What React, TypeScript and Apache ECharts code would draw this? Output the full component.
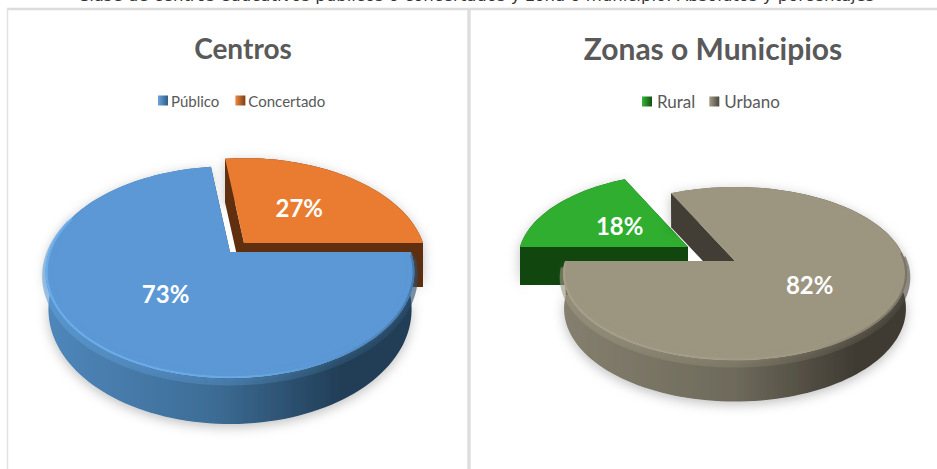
import React, { useEffect, useRef } from "react";
import * as echarts from "echarts";

const centrosCategories = ["Público", "Concertado"];
const centrosValues = [73, 27];
const zonasCategories = ["Rural", "Urbano"];
const zonasValues = [18, 82];
const pageCaption =
  "Clase de centros educativos públicos o concertados y zona o municipio: Absolutos y porcentajes";

const FONT = "Lato, 'Open Sans', sans-serif";

type Geo = {
  ax: number; ay: number; R: number; a: number; k: number;
  h0: number; h1: number; shrink: number;
};

const project = (g: Geo, deg: number, r: number, bottom = false): number[] => {
  const t = (deg * Math.PI) / 180;
  const X = r * Math.sin(t);
  const Y = -r * Math.cos(t);
  const D = 1 - g.k * Y;
  let u = (g.R * X) / D;
  let v = (g.a * Y) / D;
  if (bottom) {
    u *= g.shrink;
    v = v * g.shrink + g.h0 + g.h1 * Math.max(Y, 0);
  }
  return [g.ax + u, g.ay + v];
};

const arc = (g: Geo, d0: number, d1: number, bottom = false, r = 1) => {
  const pts: number[][] = [];
  const n = Math.max(8, Math.ceil((d1 - d0) / 2));
  for (let i = 0; i <= n; i++) pts.push(project(g, d0 + ((d1 - d0) * i) / n, r, bottom));
  return pts;
};

const grad = (stops: [number, string][]) =>
  new echarts.graphic.LinearGradient(
    0, 0, 1, 0,
    stops.map(([offset, color]) => ({ offset, color }))
  );

type Look = {
  top: string; cut: string; wall: [number, string][];
  rim?: [number, string][]; band?: [number, string][]; glow?: string;
  front?: [number, number];
};

const sliceSeries = (
  name: string, value: number, startDeg: number, total: number, g: Geo, look: Look, legendColor: string
) => ({
  type: "custom",
  name,
  coordinateSystem: "none",
  silent: true,
  itemStyle: { color: legendColor },
  data: [[value]],
  renderItem: (_p: any, api: any) => {
    const v = api.value(0) as number;
    const d0 = startDeg;
    const d1 = startDeg + (v / total) * 360;
    const apex = [g.ax, g.ay];
    const apexB = [g.ax, g.ay + g.h0];
    const rim = arc(g, d0, d1);
    const rimB = arc(g, d0, d1, true);
    const mid = project(g, (d0 + d1) / 2, 0.5);
    const cutWall = (d: number) => {
      const p = project(g, d, 1);
      const q = project(g, d, 1, true);
      return {
        type: "polygon",
        shape: { points: [apex, p, q, apexB] },
        style: { fill: look.cut },
      };
    };
    const children: any[] = [
      {
        type: "polygon",
        shape: { points: [...rim, ...rimB.slice().reverse()] },
        style: {
          fill: grad(look.wall),
          shadowBlur: 12,
          shadowColor: "rgba(0,0,0,0.25)",
          shadowOffsetY: 3,
        },
      },
      cutWall(d0),
      cutWall(d1),
    ];
    if (look.front && look.band) {
      children.push({
        type: "polyline",
        shape: { points: arc({ ...g, h0: 4, h1: 0, shrink: 1 }, look.front[0], look.front[1], true) },
        style: { fill: "none", stroke: grad(look.band), lineWidth: 7, opacity: 0.6, lineCap: "butt" },
      });
    }
    children.push({
      type: "polygon",
      shape: { points: [apex, ...rim] },
      style: { fill: look.top },
    });
    if (look.front && look.rim) {
      children.push({
        type: "polyline",
        shape: { points: arc(g, look.front[0], look.front[1], false, 0.995) },
        style: {
          fill: "none",
          stroke: grad(look.rim),
          lineWidth: 2,
          opacity: 0.8,
          lineCap: "round",
          shadowBlur: 5,
          shadowColor: look.glow,
        },
      });
    }
    children.push({
      type: "text",
      style: {
        text: `${v}%`,
        x: mid[0],
        y: mid[1],
        fill: "#ffffff",
        font: `700 24px ${FONT}`,
        align: "center",
        verticalAlign: "middle",
      },
    });
    return { type: "group", children };
  },
});

const geoBlue: Geo = { ax: 230, ay: 252, R: 181, a: 102, k: 0.19, h0: 35, h1: 13, shrink: 0.985 };
const geoOrange: Geo = { ax: 244, ay: 243, R: 179, a: 101, k: 0.19, h0: 44, h1: 0, shrink: 1 };
const geoGray: Geo = { ax: 735, ay: 261, R: 170, a: 84.7, k: 0.1445, h0: 34, h1: 8, shrink: 0.995 };
const geoGreen: Geo = { ax: 688, ay: 247, R: 168, a: 84.7, k: 0.1445, h0: 38, h1: 0, shrink: 1 };

const lookBlue: Look = {
  top: "#5b98d5", cut: "#244058", front: [92, 290], glow: "rgba(90,150,210,0.5)",
  wall: [[0, "#4f87bb"], [0.45, "#3d6d96"], [0.8, "#223e57"], [1, "#223e57"]],
  rim: [[0, "#6db3f2"], [0.55, "#69ace8"], [0.75, "#5b98d5"], [1, "#3f74a6"]],
  band: [[0, "#5f9ed8"], [0.5, "#4f86b8"], [0.8, "#2f5876"], [1, "#294a66"]],
};
const lookOrange: Look = {
  top: "#e97c30", cut: "#5f2f10",
  wall: [[0, "#5f2f10"], [1, "#5f2f10"]],
};
const lookGreen: Look = {
  top: "#2fae2f", cut: "#12460f",
  wall: [[0, "#12460f"], [1, "#12460f"]],
};
const lookGray: Look = {
  top: "#9c9580", cut: "#423e35", front: [445, 628], glow: "rgba(160,155,135,0.5)",
  wall: [[0, "#847f6e"], [0.5, "#6e6a5b"], [0.85, "#3f3b33"], [1, "#3f3b33"]],
  rim: [[0, "#a8a28d"], [0.7, "#a09a85"], [1, "#716c5c"]],
  band: [[0, "#9c9580"], [0.5, "#85806d"], [1, "#4a463c"]],
};

const legendIcon = (light: string, dark: string) =>
  new echarts.graphic.LinearGradient(0, 0, 1, 0, [
    { offset: 0, color: light },
    { offset: 1, color: dark },
  ]);

const titleStyle = (fontSize: number) => ({ color: "#595959", fontFamily: FONT, fontWeight: 700, fontSize });
const legendBase = {
  itemWidth: 10,
  itemHeight: 10,
  icon: "rect",
  padding: 0,
};
const legendText = (fontSize: number, pad: number) => ({
  color: "#595959",
  fontFamily: FONT,
  fontSize,
  padding: [0, 0, 0, pad],
});

const line = (x1: number, y1: number, x2: number, y2: number, w: number, c: string) => ({
  type: "line",
  shape: { x1, y1, x2, y2 },
  style: { stroke: c, lineWidth: w },
  z: 0,
});

export default function App() {
  const ref = useRef<HTMLDivElement>(null);
  useEffect(() => {
    document.body.style.margin = "0";
    const chart = echarts.init(ref.current!, undefined, { renderer: "svg" });
    const totalC = centrosValues.reduce((s, x) => s + x, 0);
    const totalZ = zonasValues.reduce((s, x) => s + x, 0);
    const startC = 90;
    const startZ = 270;
    chart.setOption({
      animation: false,
      backgroundColor: "#ffffff",
      title: [
        { text: "Centros", left: 238, top: 29, textAlign: "center", textStyle: titleStyle(28) },
        { text: "Zonas o Municipios", left: 708, top: 28, textAlign: "center", textStyle: titleStyle(30) },
      ],
      legend: [
        {
          ...legendBase,
          left: 158,
          top: 93,
          itemGap: 16,
          textStyle: legendText(15, -2),
          data: [
            { name: centrosCategories[0], itemStyle: { color: legendIcon("#6aa5dc", "#2f5d87") } },
            { name: centrosCategories[1], itemStyle: { color: legendIcon("#ee8a42", "#7a3f16") } },
          ],
        },
        {
          ...legendBase,
          left: 642,
          top: 93,
          itemGap: 14,
          textStyle: legendText(17, 0),
          data: [
            { name: zonasCategories[0], itemStyle: { color: legendIcon("#36b536", "#125012") } },
            { name: zonasCategories[1], itemStyle: { color: legendIcon("#a39d88", "#4a463c") } },
          ],
        },
      ],
      graphic: [
        line(7, 9, 937, 9, 2.5, "#dcdcdc"),
        line(7.5, 9, 7.5, 469, 1.5, "#e2e2e2"),
        line(469, 9, 469, 469, 3.5, "#dedede"),
        {
          type: "text",
          z: 0,
          style: {
            text: pageCaption,
            x: 476,
            y: 4,
            fill: "#333333",
            font: `16.5px 'DejaVu Sans', sans-serif`,
            align: "center",
            verticalAlign: "bottom",
          },
        },
      ],
      series: [
        sliceSeries(
          centrosCategories[1], centrosValues[1],
          startC + (centrosValues[0] / totalC) * 360, totalC, geoOrange, lookOrange, "#e97c30"
        ),
        sliceSeries(centrosCategories[0], centrosValues[0], startC, totalC, geoBlue, lookBlue, "#5b98d5"),
        sliceSeries(zonasCategories[0], zonasValues[0], startZ, totalZ, geoGreen, lookGreen, "#2fae2f"),
        sliceSeries(
          zonasCategories[1], zonasValues[1],
          startZ + (zonasValues[0] / totalZ) * 360, totalZ, geoGray, lookGray, "#9c9580"
        ),
      ],
    });
    return () => chart.dispose();
  }, []);
  return <div ref={ref} style={{ width: 937, height: 469, position: "absolute", left: 0, top: 0 }} />;
}
